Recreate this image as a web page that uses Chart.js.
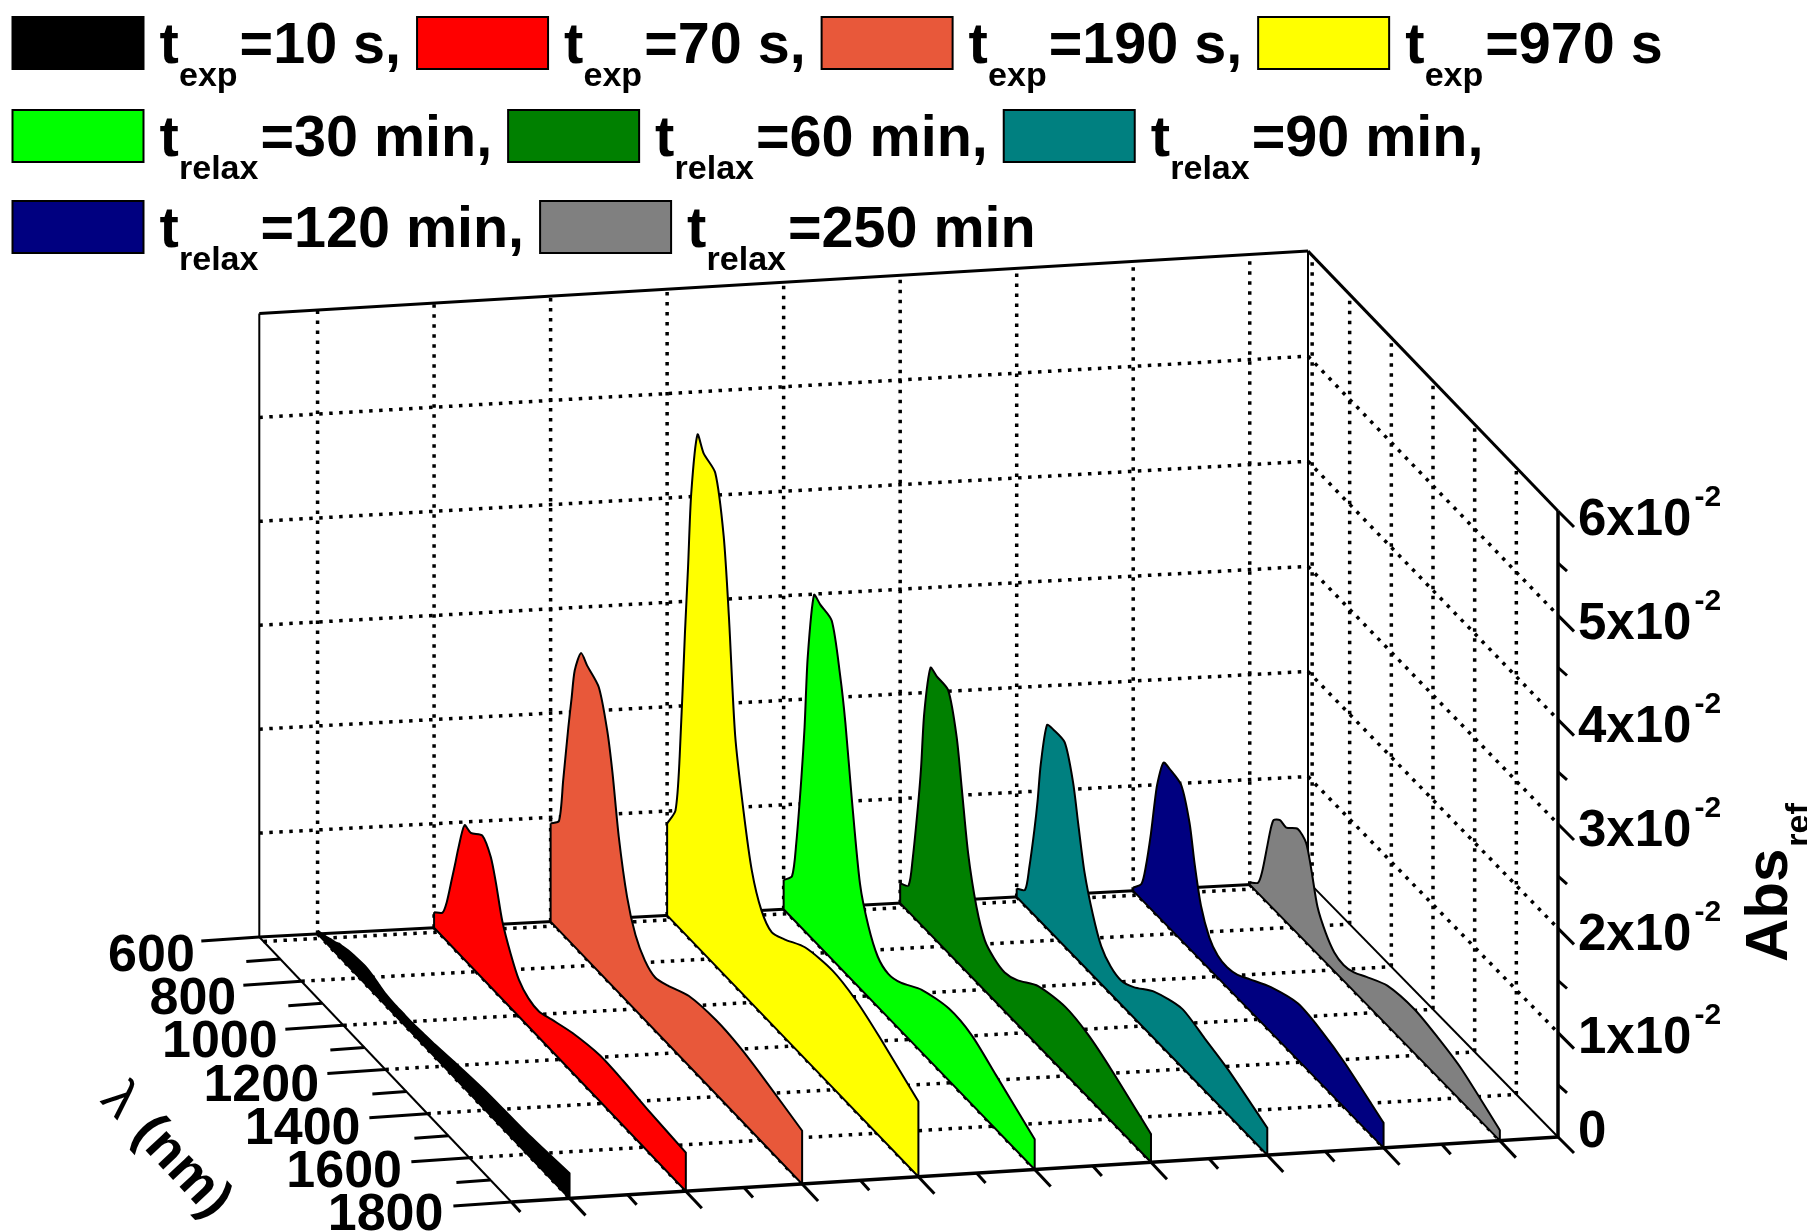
<!DOCTYPE html>
<html>
<head>
<meta charset="utf-8">
<title>Abs ref</title>
<script src="https://cdn.jsdelivr.net/npm/chart.js@4"></script>
<style>
  html, body { margin: 0; padding: 0; background: #fff; }
  canvas { display: block; }
</style>
</head>
<body>
<canvas id="absChart" width="1807" height="1231"></canvas>
<script>
// values
const wavelengths = [600, 640, 660, 685, 700, 715, 745, 775, 830, 870, 895, 925, 965, 1005, 1050, 1100, 1160, 1260, 1390, 1500, 1615, 1800];
const abs10s = [.0003, .0006, .0008, .0010, .0012, .0013, .0015, .0016, .0017, .0015, .0013, .0011, .0010, .0010, .0010, .0011, .0012, .0015, .0018, .0019, .0020, .0024];
const abs70s = [.0015, .0023, .0037, .0065, .0082, .0100, .0129, .0128, .0137, .0125, .0105, .0075, .0052, .0035, .0027, .0025, .0030, .0038, .0044, .0043, .0040, .0037];
const abs190s = [.0094, .0105, .0148, .0205, .0235, .0265, .0288, .0282, .0273, .0240, .0205, .0150, .0100, .0072, .0057, .0051, .0056, .0067, .0071, .0069, .0063, .0051];
const abs970s = [.0088, .0109, .0165, .0288, .0355, .0428, .0491, .0479, .0472, .0420, .0348, .0240, .0176, .0127, .0099, .0088, .0094, .0107, .0112, .0107, .0095, .0072];
const abs30min = [.0028, .0040, .0075, .0144, .0195, .0265, .0331, .0328, .0324, .0280, .0240, .0175, .0100, .0068, .0048, .0042, .0046, .0060, .0069, .0066, .0052, .0029];
const abs60min = [.0019, .0025, .0055, .0110, .0150, .0205, .0255, .0253, .0251, .0215, .0170, .0115, .0072, .0048, .0040, .0037, .0042, .0057, .0064, .0060, .0049, .0027];
const abs90min = [.0008, .0015, .0040, .0082, .0112, .0150, .0194, .0196, .0195, .0165, .0130, .0090, .0058, .0036, .0026, .0023, .0029, .0045, .0056, .0050, .0043, .0026];
const abs120min = [.0003, .0015, .0035, .0072, .0100, .0125, .0152, .0152, .0148, .0120, .0085, .0052, .0030, .0021, .0019, .0022, .0030, .0043, .0054, .0051, .0043, .0024];
const abs250min = [.0002, .0010, .0025, .0055, .0073, .0085, .0091, .0090, .0100, .0095, .0075, .0045, .0028, .0018, .0015, .0018, .0026, .0038, .0042, .0038, .0031, .0010];

const seriesValues = [abs10s, abs70s, abs190s, abs970s, abs30min, abs60min, abs90min, abs120min, abs250min];
const seriesColors = ['#000000', '#ff0000', '#e8583a', '#ffff00', '#00ff00', '#008000', '#008080', '#000080', '#808080'];
const seriesNames = ['t', 't', 't', 't', 't', 't', 't', 't', 't'];
const seriesSubs = ['exp', 'exp', 'exp', 'exp', 'relax', 'relax', 'relax', 'relax', 'relax'];
const seriesTails = ['=10 s,', '=70 s,', '=190 s,', '=970 s', '=30 min,', '=60 min,', '=90 min,', '=120 min,', '=250 min'];
const legendRows = [[0, 1, 2, 3], [4, 5, 6], [7, 8]];

const lambdaTicks = [600, 800, 1000, 1200, 1400, 1600, 1800];
const lambdaMinor = [700, 900, 1100, 1300, 1500, 1700];
const lambdaGrid = [620, 800, 1000, 1200, 1400, 1600];
const absTicks = [0, .01, .02, .03, .04, .05, .06];
const absMinor = [.005, .015, .025, .035, .045, .055];
const absMantissa = ['0', '1x10', '2x10', '3x10', '4x10', '5x10', '6x10'];
const absExponent = '-2';

// 3d box -> screen, floor corners and box heights
const LAM_MIN = 600, LAM_MAX = 1800, POS_MAX = 9, ABS_MAX = 0.06;
const backLeft = [259.3, 937, 623.5], backRight = [1308, 881.6, 630.5];
const frontLeft = [511.4, 1202, 626], frontRight = [1558, 1137, 626];

function lerp(a, b, t) { return a + (b - a) * t; }

function project(pos, lam, abs) {
  const u = pos / POS_MAX;
  const v = (lam - LAM_MIN) / (LAM_MAX - LAM_MIN);
  const at = function (k) {
    return lerp(lerp(backLeft[k], backRight[k], u), lerp(frontLeft[k], frontRight[k], u), v);
  };
  return { x: at(0), y: at(1) - abs / ABS_MAX * at(2) };
}

function lineSet(points, width, dash) {
  return {
    data: points,
    showLine: true,
    borderColor: '#000',
    borderWidth: width,
    borderDash: dash || [],
    borderCapStyle: 'butt',
    pointRadius: 0,
    fill: false,
    tension: 0
  };
}

const DOTS = [3.5, 6.5];
const datasets = [];

// first dataset ends up on top, so front ribbon goes first
seriesValues.forEach(function (vals, i) {
  const pos = i + 0.5;
  const pts = wavelengths.map(function (lam, k) { return project(pos, lam, vals[k]); });
  const last = pts[pts.length - 1];
  const baseFront = project(pos, LAM_MAX, 0);
  const baseBack = project(pos, LAM_MIN, 0);
  // doubled points keep the corners sharp with the curve tension on
  pts.push(last, baseFront, baseFront, baseBack, baseBack, pts[0], pts[0]);
  datasets.push({
    data: pts,
    showLine: true,
    borderColor: '#000',
    borderWidth: 2,
    backgroundColor: seriesColors[i],
    pointRadius: 0,
    fill: 'shape',
    tension: 0.25
  });
});

// axes
datasets.push(lineSet([project(0, LAM_MAX, 0), project(POS_MAX, LAM_MAX, 0)], 3.5));
datasets.push(lineSet([project(POS_MAX, LAM_MAX, 0), project(POS_MAX, LAM_MAX, ABS_MAX)], 3.5));
datasets.push(lineSet([project(0, LAM_MIN, 0), project(0, LAM_MAX, 0)], 2));
datasets.push(lineSet([project(0, LAM_MIN, 0), project(POS_MAX, LAM_MIN, 0)], 3));
datasets.push(lineSet([project(POS_MAX, LAM_MIN, 0), project(POS_MAX, LAM_MAX, 0)], 2));
datasets.push(lineSet([project(0, LAM_MIN, 0), project(0, LAM_MIN, ABS_MAX)], 2));
datasets.push(lineSet([project(0, LAM_MIN, ABS_MAX), project(POS_MAX, LAM_MIN, ABS_MAX)], 3));
datasets.push(lineSet([project(POS_MAX, LAM_MIN, 0), project(POS_MAX, LAM_MIN, ABS_MAX)], 2));
datasets.push(lineSet([project(POS_MAX, LAM_MIN, ABS_MAX), project(POS_MAX, LAM_MAX, ABS_MAX)], 3));

// tick marks
function offset(p, dx, dy) { return { x: p.x + dx, y: p.y + dy }; }

lambdaTicks.forEach(function (lam) {
  const p = project(0, lam, 0);
  datasets.push(lineSet([p, offset(p, -58, 4)], 3));
});
lambdaMinor.forEach(function (lam) {
  const p = project(0, lam, 0);
  datasets.push(lineSet([p, offset(p, -34, 2.5)], 3));
});
for (let i = 0; i < POS_MAX; i++) {
  const major = project(i + 0.5, LAM_MAX, 0);
  datasets.push(lineSet([major, offset(major, 16, 17)], 3));
  const minor = project(i, LAM_MAX, 0);
  datasets.push(lineSet([minor, offset(minor, 9, 10)], 3));
}
absTicks.forEach(function (a) {
  const p = project(POS_MAX, LAM_MAX, a);
  datasets.push(lineSet([p, offset(p, 16, 16)], 3));
});
absMinor.forEach(function (a) {
  const p = project(POS_MAX, LAM_MAX, a);
  datasets.push(lineSet([p, offset(p, 9, 8)], 3));
});

// dotted grid
for (let i = 0; i < POS_MAX; i++) {
  datasets.push(lineSet([project(i + 0.5, LAM_MIN, 0), project(i + 0.5, LAM_MIN, ABS_MAX)], 3.5, DOTS));
  datasets.push(lineSet([project(i + 0.5, LAM_MIN, 0), project(i + 0.5, LAM_MAX, 0)], 3.5, DOTS));
}
lambdaGrid.forEach(function (lam) {
  datasets.push(lineSet([project(0, lam, 0), project(POS_MAX, lam, 0)], 3.5, DOTS));
  datasets.push(lineSet([project(POS_MAX, lam, 0), project(POS_MAX, lam, ABS_MAX)], 3.5, DOTS));
});
absTicks.slice(1, 6).forEach(function (a) {
  datasets.push(lineSet([project(0, LAM_MIN, a), project(POS_MAX, LAM_MIN, a)], 3.5, DOTS));
  datasets.push(lineSet([project(POS_MAX, LAM_MIN, a), project(POS_MAX, LAM_MAX, a)], 3.5, DOTS));
});

const FONT = '"Liberation Sans", Arial, sans-serif';

// legend with subscripts and the tick texts
const textPlugin = {
  id: 'textPlugin',
  afterDatasetsDraw: function (chart) {
    const ctx = chart.ctx;
    const sx = chart.scales.x, sy = chart.scales.y;
    ctx.save();
    ctx.fillStyle = '#000';
    ctx.textBaseline = 'alphabetic';

    const rowTops = [17, 110, 201];
    legendRows.forEach(function (row, r) {
      let x = 12.5;
      const top = rowTops[r];
      row.forEach(function (i) {
        ctx.fillStyle = seriesColors[i];
        ctx.strokeStyle = '#000';
        ctx.lineWidth = 2;
        ctx.fillRect(x, top, 131, 52);
        ctx.strokeRect(x, top, 131, 52);
        ctx.fillStyle = '#000';
        x += 147;
        ctx.textAlign = 'left';
        ctx.font = 'bold 58px ' + FONT;
        ctx.fillText(seriesNames[i], x, top + 46);
        x += 19.5;
        ctx.font = 'bold 34px ' + FONT;
        ctx.fillText(seriesSubs[i], x, top + 69);
        x += ctx.measureText(seriesSubs[i]).width + 2;
        ctx.font = 'bold 57.5px ' + FONT;
        ctx.fillText(seriesTails[i], x, top + 46);
        x += ctx.measureText(seriesTails[i]).width + 16;
      });
    });

    // lambda axis
    ctx.font = 'bold 52px ' + FONT;
    ctx.textAlign = 'right';
    lambdaTicks.forEach(function (lam) {
      const p = project(0, lam, 0);
      const back = (LAM_MAX - lam) / (LAM_MAX - LAM_MIN);
      ctx.fillText(String(lam), sx.getPixelForValue(p.x) - 68 + back * 3.5, sy.getPixelForValue(p.y) + 28 + back * 6);
    });

    // abs axis
    ctx.textAlign = 'left';
    absTicks.forEach(function (a, i) {
      const p = project(POS_MAX, LAM_MAX, a);
      const px = sx.getPixelForValue(p.x) + 20;
      const py = sy.getPixelForValue(p.y) + a / ABS_MAX * 4;
      ctx.font = 'bold 51px ' + FONT;
      ctx.fillText(absMantissa[i], px, py + (i === 0 ? 10 : 20));
      if (i > 0) {
        const w = ctx.measureText(absMantissa[i]).width;
        ctx.font = 'bold 30px ' + FONT;
        ctx.fillText(absExponent, px + w + 3, py - 9);
      }
    });

    // lambda title, the letter is thin in the original
    ctx.save();
    ctx.translate(111, 1090);
    ctx.rotate(47 * Math.PI / 180);
    ctx.textAlign = 'left';
    ctx.font = '54px ' + FONT;
    ctx.fillText('\u03bb', 0, 16);
    const lamW = ctx.measureText('\u03bb ').width;
    ctx.font = 'bold 54px ' + FONT;
    ctx.fillText('(nm)', lamW + 4, 16);
    ctx.restore();

    // abs title
    ctx.save();
    ctx.translate(1787, 962);
    ctx.rotate(-Math.PI / 2);
    ctx.textAlign = 'left';
    ctx.font = 'bold 60px ' + FONT;
    ctx.fillText('Abs', 0, 0);
    const absW = ctx.measureText('Abs').width;
    ctx.font = 'bold 34px ' + FONT;
    ctx.fillText('ref', absW + 2, 22);
    ctx.restore();

    ctx.restore();
  }
};

new Chart(document.getElementById('absChart').getContext('2d'), {
  type: 'scatter',
  data: { datasets: datasets },
  options: {
    responsive: false,
    animation: false,
    events: [],
    layout: { padding: 0 },
    plugins: {
      legend: { display: false },
      tooltip: { enabled: false },
      title: { display: false }
    },
    scales: {
      x: { type: 'linear', min: 0, max: 1807, display: false },
      y: { type: 'linear', min: 0, max: 1231, reverse: true, display: false }
    }
  },
  plugins: [textPlugin]
});
</script>
</body>
</html>
